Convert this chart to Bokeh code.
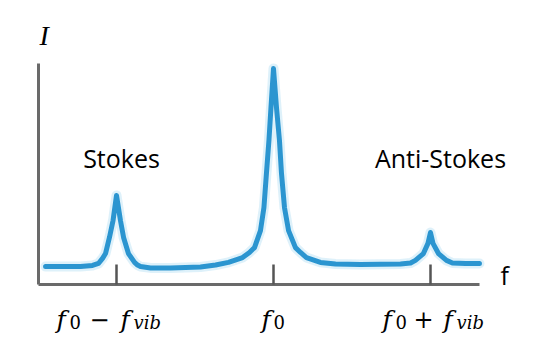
from bokeh.plotting import figure
from bokeh.models import Range1d, FixedTicker, Label, LinearAxis
from bokeh.embed import file_html
from bokeh.resources import INLINE

# ---- data (frequency relative to f0 in units of f_vib; intensity in arbitrary units) ----
freq = [-1.452, -1.229, -1.153, -1.115, -1.089, -1.070, -1.045, -1.022, -1.000,
        -0.975, -0.955, -0.924, -0.885, -0.866, -0.847, -0.783, -0.656, -0.465,
        -0.369, -0.287, -0.197, -0.153, -0.121, -0.083, -0.061, -0.045, -0.029,
        -0.016, 0.000, 0.019, 0.038, 0.051, 0.070, 0.096, 0.140, 0.172, 0.210,
        0.299, 0.395, 0.554, 0.809, 0.873, 0.904, 0.955, 0.984, 1.000, 1.016,
        1.051, 1.102, 1.140, 1.223, 1.312]
intensity = [8.1, 8.1, 8.6, 9.5, 11.8, 14.0, 21.3, 29.0, 40.3,
             29.0, 21.3, 14.0, 10.0, 8.8, 8.1, 7.5, 7.5, 7.9,
             8.8, 10.0, 12.2, 14.5, 16.7, 24.4, 34.8, 50.2, 65.2,
             80.1, 97.7, 80.1, 65.2, 50.2, 34.8, 24.4, 16.7, 14.5, 12.2,
             10.0, 9.3, 9.0, 9.3, 9.7, 10.9, 14.0, 18.6, 23.5, 18.6,
             14.0, 10.9, 9.7, 9.5, 9.5]

axis_x_bounds = [-1.497, 1.312]
axis_y_bounds = [0, 100]

tick_pos = [-1.0, 0.0, 1.0]
tick_label_parts = [["f", "0", "\u2212", "f", "vib"],
                    ["f", "0"],
                    ["f", "0", "+", "f", "vib"]]
tick_label_roles = [["var", "sub", "op", "var", "subvar"],
                    ["var", "sub"],
                    ["var", "sub", "op", "var", "subvar"]]

band_names = ["Stokes", "Anti-Stokes"]
band_pos = [-1.0, 1.0]

x_axis_label = "f"
y_axis_label = "I"

# ---- layout / style ----
part_dx = [[-60, -47, -27, 4, 17],
           [-12, 0],
           [-48, -35, -17, 13, 26]]
band_dx = [5, 10]
shift = 10
math_font = "DejaVu Serif"
role_style = {
    "var":    dict(size="25px", style="italic", dy=-45 + shift),
    "sub":    dict(size="18px", style="normal", dy=-48 + shift),
    "op":     dict(size="24px", style="normal", dy=-45 + shift),
    "subvar": dict(size="18px", style="italic", dy=-48 + shift),
}
line_color = "#2b95d0"
axis_color = "#6a6a6a"

p = figure(width=535, height=343,
           x_range=Range1d(-1.739, 1.669), y_range=Range1d(-26.7, 128.5),
           output_backend="svg", toolbar_location=None,
           x_axis_location=None, y_axis_location=None,
           min_border_left=0, min_border_right=0,
           min_border_top=0, min_border_bottom=0)
p.background_fill_color = "white"
p.border_fill_color = "white"
p.outline_line_color = None
p.grid.visible = False

xa = LinearAxis(fixed_location=0, bounds=tuple(axis_x_bounds),
                ticker=FixedTicker(ticks=tick_pos))
xa.major_tick_in = 20
xa.major_tick_out = 0
xa.minor_tick_line_color = None
xa.major_label_overrides = {t: "" for t in tick_pos}
xa.axis_line_width = 3
xa.axis_line_color = axis_color
xa.major_tick_line_width = 2.5
xa.major_tick_line_color = "#555555"
p.add_layout(xa, "below")

ya = LinearAxis(fixed_location=axis_x_bounds[0], bounds=tuple(axis_y_bounds),
                ticker=FixedTicker(ticks=[]))
ya.major_tick_line_color = None
ya.minor_tick_line_color = None
ya.axis_line_width = 3
ya.axis_line_color = axis_color
p.add_layout(ya, "left")

# soft halo + spectrum line
p.line(freq, intensity, line_width=10, line_color="#7cc6ec", line_alpha=0.25,
       line_join="round", line_cap="round")
p.line(freq, intensity, line_width=5, line_color=line_color,
       line_join="round", line_cap="round")

# composite math tick labels
for pos, parts, roles, dxs in zip(tick_pos, tick_label_parts, tick_label_roles, part_dx):
    for txt, role, dx in zip(parts, roles, dxs):
        st = role_style[role]
        p.add_layout(Label(x=pos, y=0, x_offset=dx, y_offset=st["dy"], text=txt,
                           text_font=math_font, text_font_size=st["size"],
                           text_font_style=st["style"], text_color="black",
                           text_align="left", text_baseline="alphabetic"))

# band names
for name, pos, dx in zip(band_names, band_pos, band_dx):
    p.add_layout(Label(x=pos, y=0, x_offset=dx, y_offset=116 + shift, text=name,
                       text_font="Open Sans", text_font_size="25px",
                       text_color="black", text_align="center",
                       text_baseline="alphabetic"))

# axis names
p.add_layout(Label(x=axis_x_bounds[1], y=0, x_offset=21, y_offset=-1 + shift,
                   text=x_axis_label, text_font="Open Sans", text_font_size="25px",
                   text_color="black", text_align="left", text_baseline="alphabetic"))
p.add_layout(Label(x=axis_x_bounds[0], y=axis_y_bounds[1], x_offset=1, y_offset=18 + shift,
                   text=y_axis_label, text_font="Liberation Serif", text_font_size="28px",
                   text_font_style="italic", text_color="black",
                   text_align="left", text_baseline="alphabetic"))

open("out.html", "w").write(file_html(p, INLINE))
